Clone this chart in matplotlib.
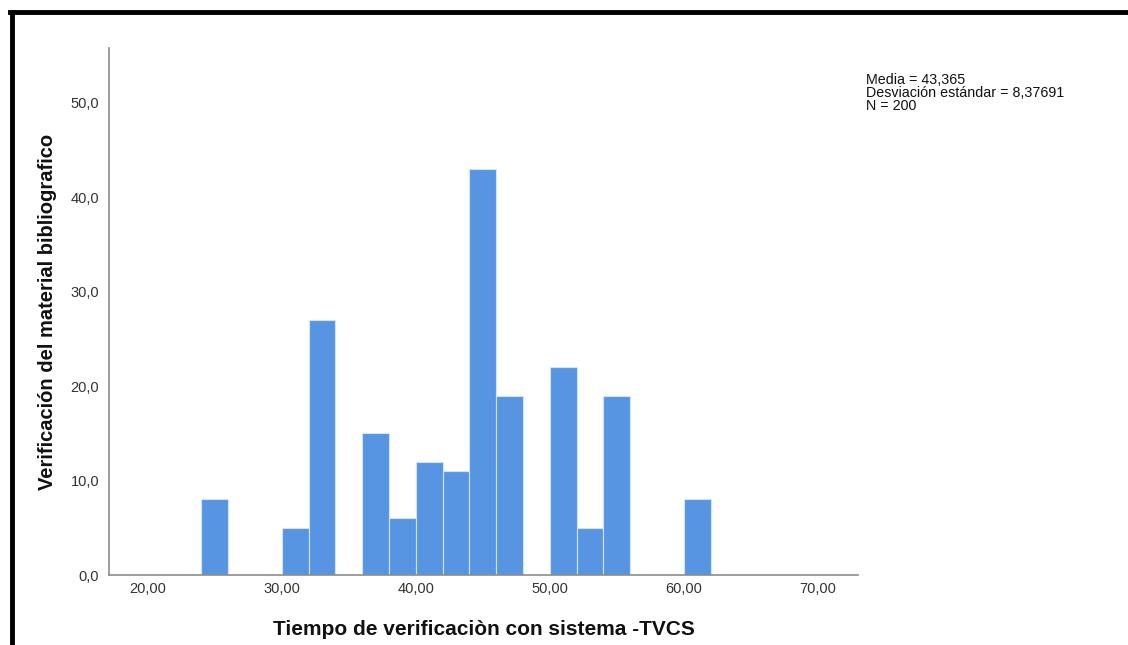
import matplotlib
matplotlib.use("Agg")
import matplotlib.pyplot as plt
from matplotlib.lines import Line2D
from matplotlib.ticker import FuncFormatter

# histogram bins (left edge) and counts
bin_left = [24, 30, 32, 36, 38, 40, 42, 44, 46, 50, 52, 54, 60]
counts = [8, 5, 27, 15, 6, 12, 11, 43, 19, 22, 5, 19, 8]
bin_width = 2
x_ticks = [20, 30, 40, 50, 60, 70]
y_ticks = [0, 10, 20, 30, 40, 50]
stats_lines = ["Media = 43,365", "Desviación estándar = 8,37691", "N = 200"]

plt.rcParams['font.family'] = ['Liberation Sans', 'DejaVu Sans']

fig = plt.figure(figsize=(11.28, 6.45), dpi=100)
ax = fig.add_axes([0.0966, 0.1085, 0.6640, 0.8171])

ax.bar(bin_left, counts, width=bin_width, align='edge', color='#5795e3',
       edgecolor='#d4e4f7', linewidth=0.8)

ax.set_xlim(17.1, 73.0)
ax.set_ylim(0, 55.8)
ax.set_xticks(x_ticks)
ax.set_yticks(y_ticks)
ax.xaxis.set_major_formatter(FuncFormatter(lambda v, p: f"{v:.2f}".replace('.', ',')))
ax.yaxis.set_major_formatter(FuncFormatter(lambda v, p: f"{v:.1f}".replace('.', ',')))
ax.tick_params(length=0, labelsize=10.5, colors='#333333')
ax.tick_params(axis='x', pad=5)
ax.tick_params(axis='y', pad=7)

for side in ['top', 'right']:
    ax.spines[side].set_visible(False)
for side in ['left', 'bottom']:
    ax.spines[side].set_color('#8c8c8c')
    ax.spines[side].set_linewidth(1.2)

ax.set_xlabel("Tiempo de verificaciòn con sistema -TVCS", fontsize=15,
              fontweight='bold', color='#111111', labelpad=17)
ax.set_ylabel("Verificación del material bibliografico", fontsize=14.5,
              fontweight='bold', color='#111111', labelpad=10)

fig.text(866 / 1128, 1 - 73 / 645, "\n".join(stats_lines), fontsize=10.3,
         va='top', ha='left', color='#111111', linespacing=0.92)

# black frame (top and left)
fig.add_artist(Line2D([12 / 1128, 12 / 1128], [0, 1 - 12 / 645], transform=fig.transFigure,
                      color='black', linewidth=3.5))
fig.add_artist(Line2D([10 / 1128, 1], [1 - 12 / 645, 1 - 12 / 645], transform=fig.transFigure,
                      color='black', linewidth=3.5))

fig.savefig("out.png", dpi=100)
